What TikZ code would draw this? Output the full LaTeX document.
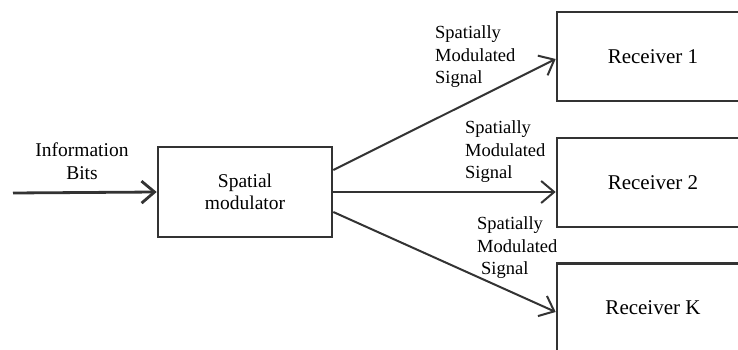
\documentclass[tikz,border=0pt]{standalone}
\usepackage{fontspec}
\setmainfont{Liberation Serif}
\newfontfamily\tnr{Liberation Serif}
\usetikzlibrary{arrows.meta}
\begin{document}
\begin{tikzpicture}[x=1pt,y=1pt,
  box/.style={draw=black!80, line width=2.6pt, rectangle, inner sep=0pt},
  rbox/.style={box, minimum width=192pt, minimum height=89pt, font=\tnr\fontsize{21}{24}\selectfont},
  sig/.style={draw=black!80, line width=2pt, -{Straight Barb[length=13pt,width=22pt]}},
  lbl/.style={inner sep=0pt, align=left, anchor=west, font=\tnr\fontsize{18.5}{22.5}\selectfont}
]
\useasboundingbox (0,0) rectangle (738,350);
\clip (0,0) rectangle (738,350);
\node[box, minimum width=174pt, minimum height=90pt, align=center,
      font=\tnr\fontsize{19.5}{22}\selectfont] (mod) at (245,158) {Spatial\\modulator};
\node[rbox] (r1) at (653,293.5) {Receiver 1};
\node[rbox] (r2) at (653,167.5) {Receiver 2};
\node[rbox] (rk) at (653,42) {Receiver K};
\coordinate (in) at (13,157);
\draw[sig, line width=2.8pt] (in) -- (mod.west);
\node[inner sep=0pt, align=center, font=\tnr\fontsize{19.5}{23}\selectfont] (info) at (82,188.5) {Information\\Bits};
\draw[sig] ([yshift=22pt]mod.east) -- ([yshift=-2.5pt]r1.west);
\draw[sig] ([yshift=0pt]mod.east) -- ([yshift=-9.5pt]r2.west);
\draw[sig] ([yshift=-20pt]mod.east) -- ([yshift=-4pt]rk.west);
\node[lbl] (l1) at (435,293) {Spatially\\Modulated\\Signal};
\node[lbl] (l2) at (465,198) {Spatially\\Modulated\\Signal};
\node[lbl] (l3) at (477,102) {Spatially\\Modulated\\\hspace*{4pt}Signal};
\end{tikzpicture}
\end{document}
